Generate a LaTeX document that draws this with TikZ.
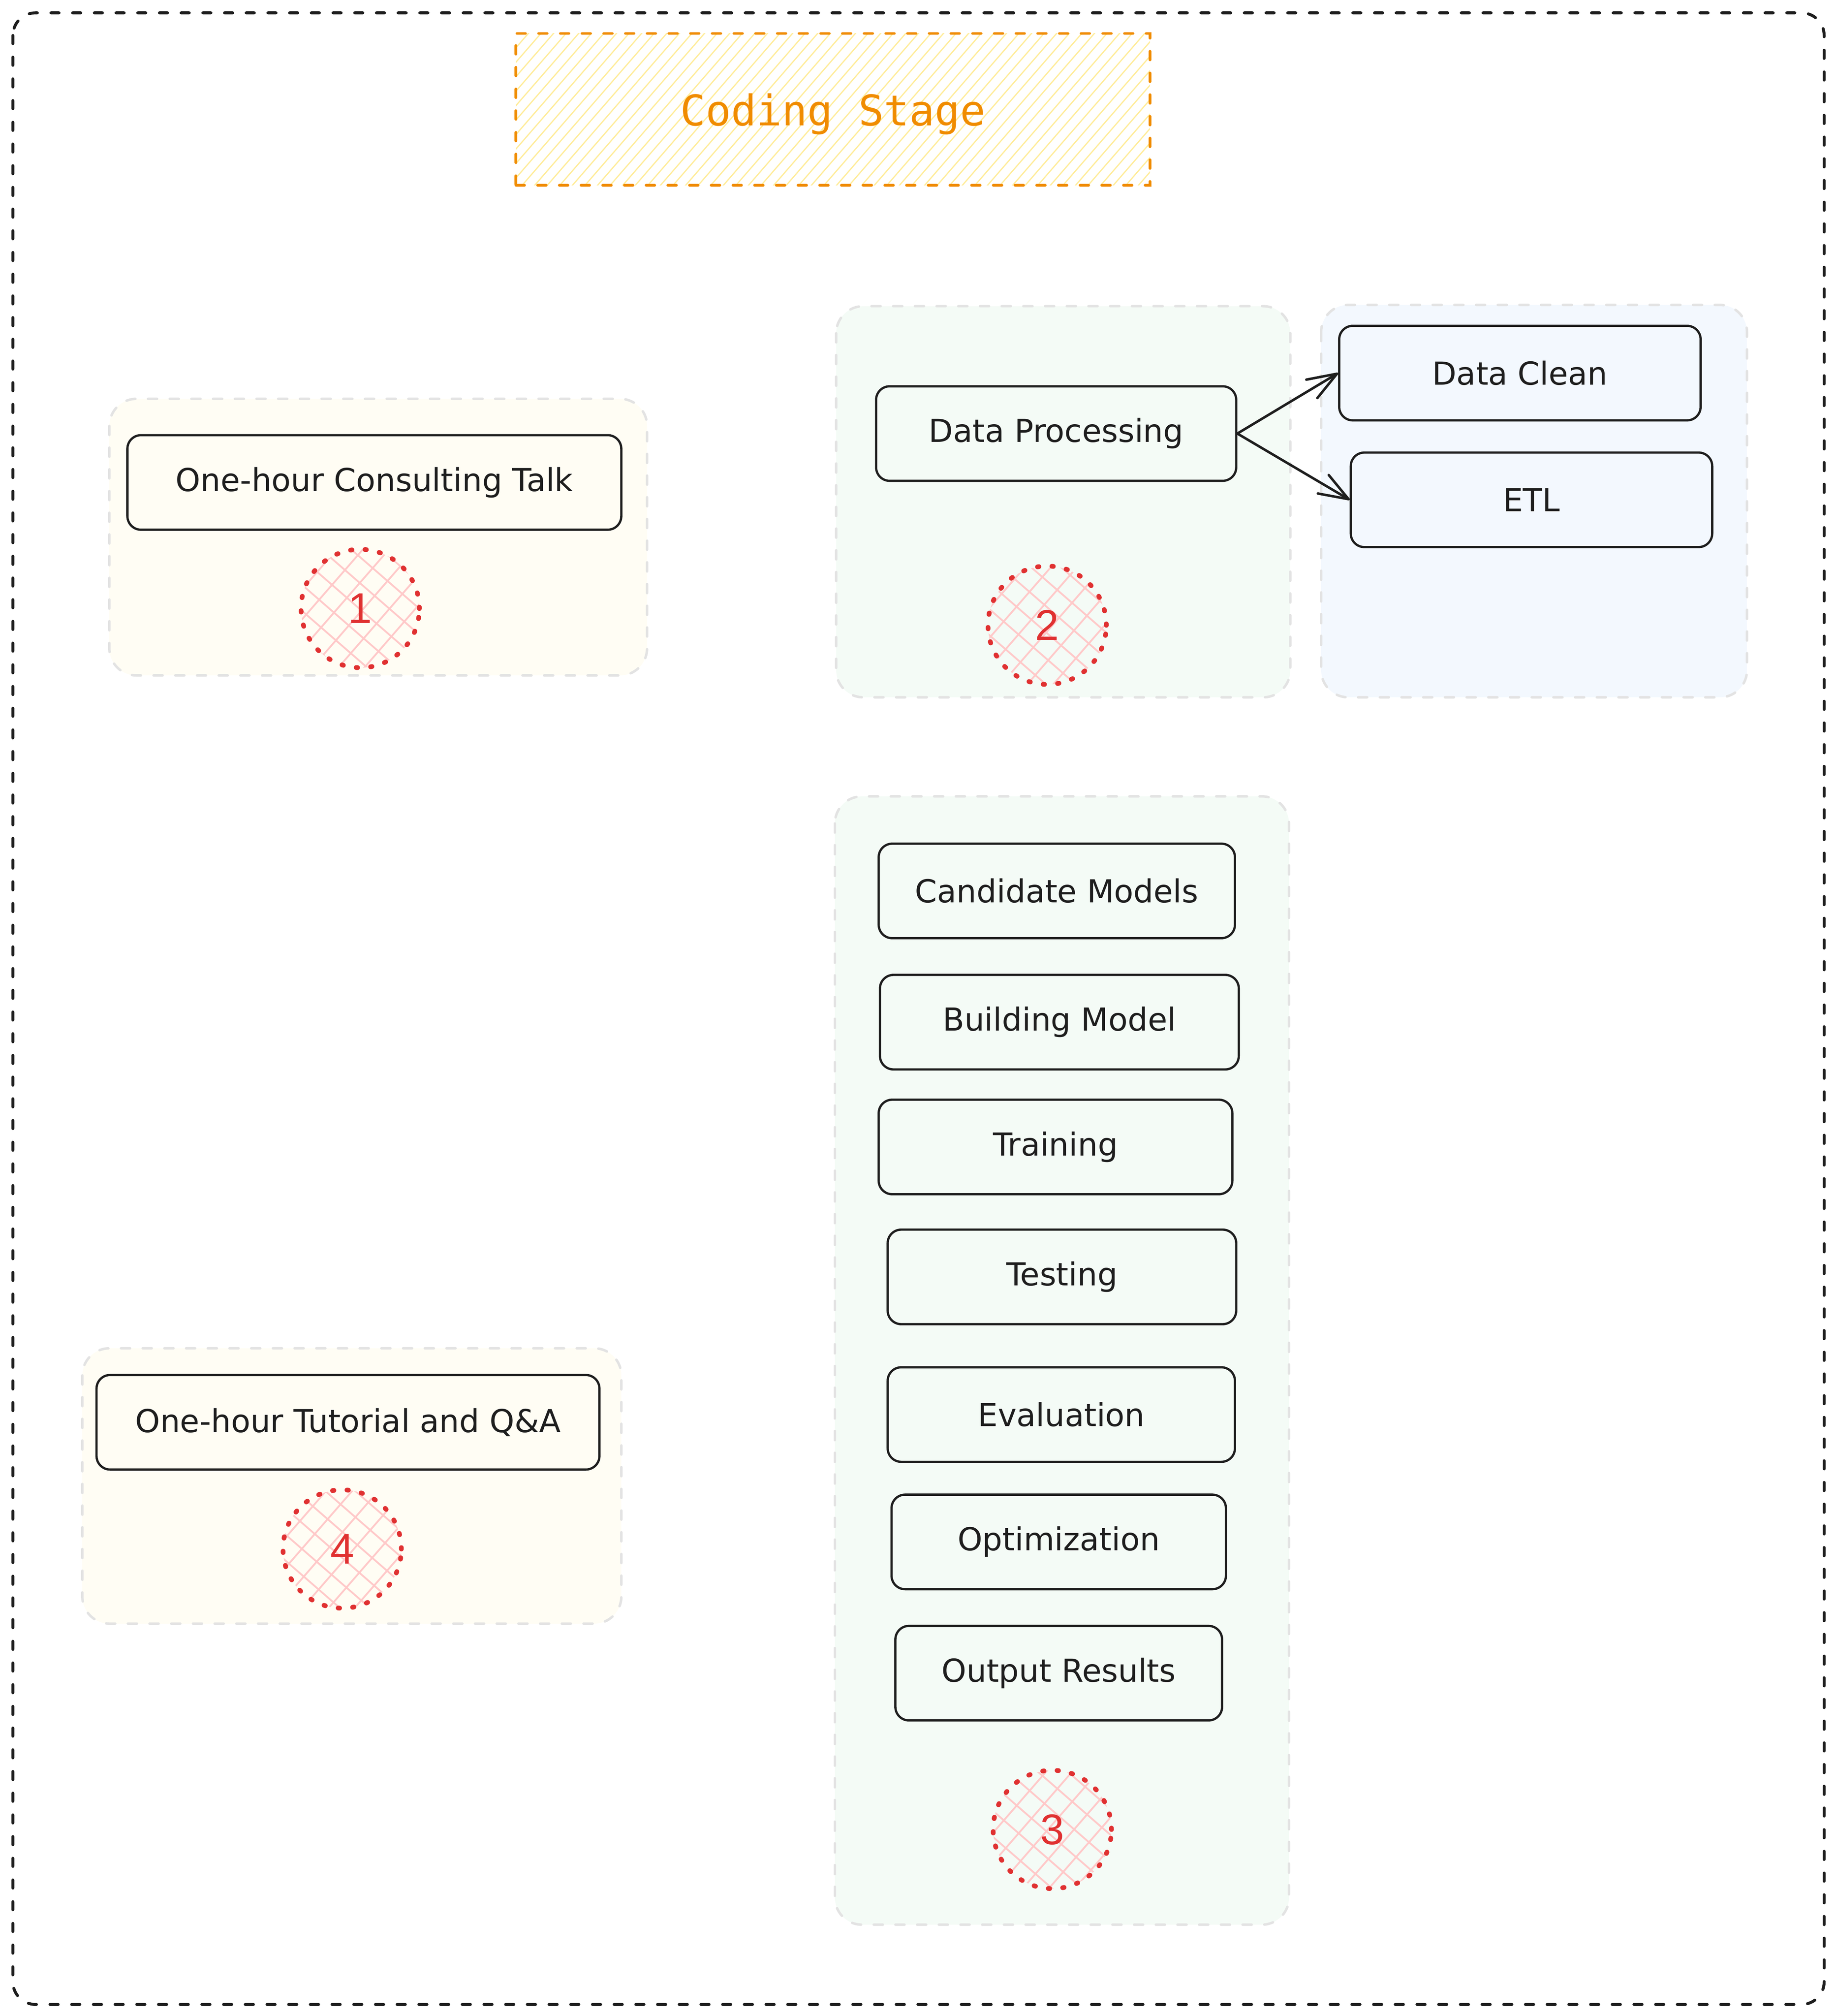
\documentclass[tikz,border=0pt]{standalone}
\usepackage{fontspec}
\setmainfont{DejaVu Sans}
\newfontfamily\stagefont{DejaVu Sans Mono}
\newfontfamily\badgefont{Liberation Sans}
\usetikzlibrary{arrows.meta, patterns.meta, positioning}

\definecolor{ink}{HTML}{1E1E1E}
\definecolor{stageorange}{HTML}{F08C00}
\definecolor{stagehatch}{HTML}{FFEC99}
\definecolor{grpgray}{HTML}{E3E3E3}
\definecolor{grpyellow}{HTML}{FFFDF4}
\definecolor{grpgreen}{HTML}{F4FBF6}
\definecolor{grpblue}{HTML}{F3F8FE}
\definecolor{badgered}{HTML}{E03131}
\definecolor{badgehatch}{HTML}{FFC9C9}

\tikzset{
    outline/.style={draw=ink, line width=1.3pt, line cap=round,
        dash pattern=on 3.6pt off 6pt, rounded corners=10pt},
    stagebox/.style={draw=stageorange, line width=1.2pt, line cap=round,
        dash pattern=on 3.8pt off 5.8pt,
        preaction={solid, pattern={Lines[angle=49, distance=4.2pt, line width=0.55pt]}, pattern color=stagehatch},
        text=stageorange, font=\stagefont\fontsize{18.7}{22}\selectfont, inner sep=0pt, text depth=0pt},
    group/.style={draw=grpgray, line width=1.1pt, line cap=round,
        dash pattern=on 4pt off 5.6pt, rounded corners=12pt, fill=#1},
    task/.style={draw=ink, line width=1pt, rounded corners=6pt, minimum height=1.47cm,
        inner sep=0pt, text=ink, font=\fontsize{14}{17}\selectfont},
    badge/.style={circle, minimum size=1.84cm, inner sep=0pt, draw=badgered, line width=2.1pt,
        line cap=round, dash pattern=on 0.6pt off 5.8pt,
        preaction={solid, pattern={Lines[angle=49, distance=8.7pt, line width=0.8pt]}, pattern color=badgehatch},
        preaction={solid, pattern={Lines[angle=-41, distance=8.7pt, line width=0.8pt]}, pattern color=badgehatch},
        text=badgered, font=\badgefont\fontsize{19}{22}\selectfont},
    flow/.style={draw=ink, line width=1.1pt, -{Straight Barb[length=13pt, width=9.5pt, round]}}
}

\begin{document}
\begin{tikzpicture}[x=0.02cm, y=-0.02cm]
    \useasboundingbox (0,0) rectangle (1427,1567);
    \draw[outline] (10,10) rectangle (1418,1558);
    \node[stagebox, minimum width=9.86cm, minimum height=2.36cm] (stage) at (647.5,85) {Coding Stage};

    % groups
    \draw[group=grpyellow] (85,310) rectangle (503,525);
    \draw[group=grpgreen] (650,238) rectangle (1003,542);
    \draw[group=grpblue] (1027,237) rectangle (1358,542);
    \draw[group=grpgreen] (649,619) rectangle (1002,1496);
    \draw[group=grpyellow] (64,1048) rectangle (483,1262);

    % step 1
    \node[task, minimum width=7.68cm] (talk) at (291,375) {One-hour Consulting Talk};
    \node[badge] (b1) at (280,473) {1};

    % step 2
    \node[task, minimum width=5.60cm] (proc) at (821,337) {Data Processing};
    \node[task, minimum width=5.62cm] (clean) at (1181.5,290) {Data Clean};
    \node[task, minimum width=5.62cm] (etl) at (1190.5,388.5) {ETL};
    \node[badge] (b2) at (814,486) {2};
    \draw[flow] (proc.east) -- (clean.west);
    \draw[flow] (proc.east) -- (etl.west);

    % step 3
    \node[task, minimum width=5.54cm] (models) at (821.5,692.5) {Candidate Models};
    \node[task, minimum width=5.58cm] (build) at (823.5,794.5) {Building Model};
    \node[task, minimum width=5.50cm] (train) at (820.5,891.5) {Training};
    \node[task, minimum width=5.42cm] (test) at (825.5,992.5) {Testing};
    \node[task, minimum width=5.40cm] (eval) at (825,1099.5) {Evaluation};
    \node[task, minimum width=5.20cm] (optim) at (823,1198.5) {Optimization};
    \node[task, minimum width=5.08cm] (results) at (823,1300.5) {Output Results};
    \node[badge] (b3) at (818,1422) {3};

    % step 4
    \node[task, minimum width=7.82cm] (tutorial) at (270.5,1105.5) {One-hour Tutorial and Q\&A};
    \node[badge] (b4) at (266,1204) {4};
\end{tikzpicture}
\end{document}
